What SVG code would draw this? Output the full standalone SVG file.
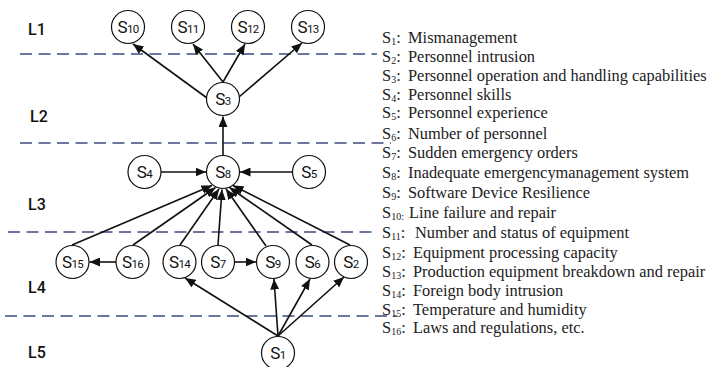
<svg xmlns="http://www.w3.org/2000/svg" width="707" height="367" viewBox="0 0 707 367">
  <style>
    .lvl { font-family: "Roboto", "Liberation Sans", sans-serif; font-size: 16px; font-weight: 500; fill: #111; }
    .node circle { fill: #fff; stroke: #111; stroke-width: 1.2; }
    .node text { font-family: "Roboto", "Liberation Sans", sans-serif; font-size: 17px; fill: #111; text-anchor: middle; letter-spacing: -0.6px; }
    .node .sub { font-size: 11.5px; }
    .sep { stroke: #3c4a80; stroke-width: 1.4; stroke-dasharray: 12 6.5; fill: none; }
    .edge { stroke: #111; stroke-width: 1.6; fill: none; marker-end: url(#arrow); }
    .key { font-family: "Liberation Serif", "Times New Roman", serif; font-size: 16.4px; fill: #222; }
    .key .sub { font-size: 10px; }
  </style>
  <defs>
    <marker id="arrow" markerUnits="userSpaceOnUse" markerWidth="11" markerHeight="9" refX="10.5" refY="4.5" orient="auto">
      <path d="M0,0 L10.5,4.5 L0,9 z" fill="#111"/>
    </marker>
  </defs>

  <!-- level separators -->
  <g id="separators">
    <line class="sep" x1="20" y1="54" x2="377" y2="54"/>
    <line class="sep" x1="20" y1="143" x2="391" y2="143"/>
    <line class="sep" x1="8" y1="232" x2="377" y2="232"/>
    <line class="sep" x1="5" y1="316" x2="397" y2="316"/>
  </g>

  <!-- level labels -->
  <g id="levels">
    <text class="lvl" x="28" y="35">L1</text>
    <text class="lvl" x="30" y="122">L2</text>
    <text class="lvl" x="28" y="210">L3</text>
    <text class="lvl" x="28" y="293">L4</text>
    <text class="lvl" x="28" y="358">L5</text>
  </g>

  <!-- connectors -->
  <g id="connectors">
    <!-- S3 to level 1 -->
    <line class="edge" x1="207" y1="98" x2="133" y2="44"/>
    <line class="edge" x1="223" y1="82" x2="193" y2="44"/>
    <line class="edge" x1="223" y1="82" x2="245" y2="44"/>
    <line class="edge" x1="239" y1="97" x2="302" y2="43"/>
    <!-- S8 to S3 -->
    <line class="edge" x1="223" y1="155" x2="223" y2="116.5"/>
    <!-- S4, S5 to S8 -->
    <line class="edge" x1="161" y1="172" x2="206" y2="172"/>
    <line class="edge" x1="292" y1="172" x2="240" y2="172"/>
    <!-- level 4 to S8 -->
    <line class="edge" x1="72" y1="245" x2="212" y2="185.5"/>
    <line class="edge" x1="133" y1="245" x2="215.5" y2="187.5"/>
    <line class="edge" x1="180" y1="245" x2="219" y2="189"/>
    <line class="edge" x1="218" y1="245" x2="222" y2="189.5"/>
    <line class="edge" x1="266" y1="246" x2="226" y2="189"/>
    <line class="edge" x1="312" y1="245" x2="229.5" y2="187.5"/>
    <line class="edge" x1="350" y1="245" x2="233" y2="185.5"/>
    <!-- within level 4 -->
    <line class="edge" x1="116" y1="262" x2="89.5" y2="262"/>
    <line class="edge" x1="235" y1="262" x2="256" y2="262"/>
    <!-- S1 to level 4 -->
    <line class="edge" x1="278" y1="336" x2="185" y2="278"/>
    <line class="edge" x1="278" y1="336" x2="274" y2="279"/>
    <line class="edge" x1="278" y1="336" x2="310" y2="279"/>
    <line class="edge" x1="278" y1="336" x2="344" y2="277"/>
  </g>

  <!-- nodes -->
  <g id="S10" class="node"><circle cx="128" cy="27" r="16.5"/><text x="128" y="33">S<tspan class="sub">10</tspan></text></g>
  <g id="S11" class="node"><circle cx="188" cy="27" r="16.5"/><text x="188" y="33">S<tspan class="sub">11</tspan></text></g>
  <g id="S12" class="node"><circle cx="248" cy="27" r="16.5"/><text x="248" y="33">S<tspan class="sub">12</tspan></text></g>
  <g id="S13" class="node"><circle cx="308" cy="27" r="16.5"/><text x="308" y="33">S<tspan class="sub">13</tspan></text></g>
  <g id="S3" class="node"><circle cx="223" cy="99" r="16.5"/><text x="223" y="105">S<tspan class="sub">3</tspan></text></g>
  <g id="S4" class="node"><circle cx="144.5" cy="172" r="16.5"/><text x="144.5" y="178">S<tspan class="sub">4</tspan></text></g>
  <g id="S8" class="node"><circle cx="223" cy="172" r="16.5"/><text x="223" y="178">S<tspan class="sub">8</tspan></text></g>
  <g id="S5" class="node"><circle cx="309" cy="172" r="16.5"/><text x="309" y="178">S<tspan class="sub">5</tspan></text></g>
  <g id="S15" class="node"><circle cx="72.5" cy="262" r="16.5"/><text x="72.5" y="268">S<tspan class="sub">15</tspan></text></g>
  <g id="S16" class="node"><circle cx="132.5" cy="262" r="16.5"/><text x="132.5" y="268">S<tspan class="sub">16</tspan></text></g>
  <g id="S14" class="node"><circle cx="179.5" cy="262" r="16.5"/><text x="179.5" y="268">S<tspan class="sub">14</tspan></text></g>
  <g id="S7" class="node"><circle cx="218" cy="262" r="16.5"/><text x="218" y="268">S<tspan class="sub">7</tspan></text></g>
  <g id="S9" class="node"><circle cx="273" cy="262" r="16.5"/><text x="273" y="268">S<tspan class="sub">9</tspan></text></g>
  <g id="S6" class="node"><circle cx="312.5" cy="262" r="16.5"/><text x="312.5" y="268">S<tspan class="sub">6</tspan></text></g>
  <g id="S2" class="node"><circle cx="351" cy="262" r="16.5"/><text x="351" y="268">S<tspan class="sub">2</tspan></text></g>
  <g id="S1" class="node"><circle cx="278" cy="353" r="16.5"/><text x="278" y="359">S<tspan class="sub">1</tspan></text></g>

  <!-- key -->
  <g id="key" class="key">
    <text x="382" y="43">S<tspan class="sub" dy="2">1</tspan><tspan dy="-2">: </tspan></text><text x="408" y="43">Mismanagement</text>
    <text x="382" y="62">S<tspan class="sub" dy="2">2</tspan><tspan dy="-2">: </tspan></text><text x="408" y="62">Personnel intrusion</text>
    <text x="382" y="81">S<tspan class="sub" dy="2">3</tspan><tspan dy="-2">: </tspan></text><text x="408" y="81">Personnel operation and handling capabilities</text>
    <text x="382" y="99.5">S<tspan class="sub" dy="2">4</tspan><tspan dy="-2">: </tspan></text><text x="408" y="99.5">Personnel skills</text>
    <text x="382" y="118">S<tspan class="sub" dy="2">5</tspan><tspan dy="-2">: </tspan></text><text x="408" y="118">Personnel experience</text>
    <text x="382" y="139">S<tspan class="sub" dy="2">6</tspan><tspan dy="-2">: </tspan></text><text x="408" y="139">Number of personnel</text>
    <text x="382" y="158">S<tspan class="sub" dy="2">7</tspan><tspan dy="-2">: </tspan></text><text x="408" y="158">Sudden emergency orders</text>
    <text x="382" y="178">S<tspan class="sub" dy="2">8</tspan><tspan dy="-2">: </tspan></text><text x="408" y="178">Inadequate emergencymanagement system</text>
    <text x="382" y="198">S<tspan class="sub" dy="2">9</tspan><tspan dy="-2">: </tspan></text><text x="408" y="198">Software Device Resilience</text>
    <text x="382" y="218">S<tspan class="sub" dy="2">10:</tspan></text><text x="409" y="218">Line failure and repair</text>
    <text x="382" y="238">S<tspan class="sub" dy="2">11</tspan><tspan dy="-2">: </tspan></text><text x="415" y="238">Number and status of equipment</text>
    <text x="382" y="258">S<tspan class="sub" dy="2">12</tspan><tspan dy="-2">: </tspan></text><text x="413" y="258">Equipment processing capacity</text>
    <text x="382" y="277">S<tspan class="sub" dy="2">13</tspan><tspan dy="-2">: </tspan></text><text x="413" y="277">Production equipment breakdown and repair</text>
    <text x="382" y="296">S<tspan class="sub" dy="2">14</tspan><tspan dy="-2">: </tspan></text><text x="413" y="296">Foreign body intrusion</text>
    <text x="382" y="315">S<tspan class="sub" dy="2">15</tspan><tspan dy="-2">: </tspan></text><text x="413" y="315">Temperature and humidity</text>
    <text x="382" y="333">S<tspan class="sub" dy="2">16</tspan><tspan dy="-2">: </tspan></text><text x="413" y="333">Laws and regulations, etc.</text>
  </g>
</svg>
